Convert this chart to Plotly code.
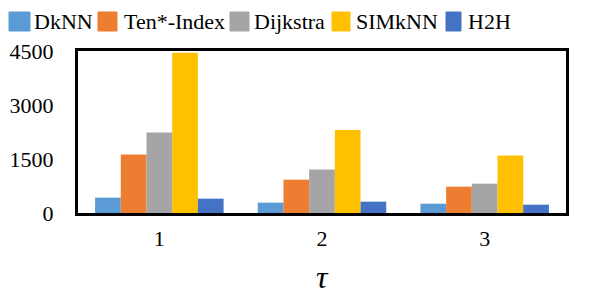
import plotly.graph_objects as go

categories = ["1", "2", "3"]
dknn = [426, 287, 259]
ten_index = [1622, 926, 732]
dijkstra = [2234, 1205, 815]
simknn = [4450, 2309, 1594]
h2h = [398, 315, 231]
y_ticks = [0, 1500, 3000, 4500]

series = [
    ("DkNN", dknn, "#5B9BD5"),
    ("Ten*-Index", ten_index, "#ED7D31"),
    ("Dijkstra", dijkstra, "#A5A5A5"),
    ("SIMkNN", simknn, "#FFC000"),
    ("H2H", h2h, "#4472C4"),
]

FONT = "Liberation Serif"
W, H = 592, 304
L, R, T, B = 78, 26, 51, 91
PW, PH = W - L - R, H - T - B

def px(x):
    return (x - L) / PW

def py(y):
    return (H - B - y) / PH

fig = go.Figure()
for name, vals, color in series:
    fig.add_trace(go.Bar(x=categories, y=vals, name=name,
                         marker=dict(color=color, line=dict(width=0)), showlegend=False))

legend_sq = [(9, 30), (98, 117), (230, 249), (332, 350), (446, 461)]
legend_tx = [32, 122, 252, 354, 466]
for (name, _, color), (x0, x1), tx in zip(series, legend_sq, legend_tx):
    fig.add_shape(type="rect", xref="paper", yref="paper",
                  x0=px(x0), x1=px(x1), y0=py(31), y1=py(12),
                  fillcolor=color, line=dict(width=1, color=color))
    fig.add_annotation(xref="paper", yref="paper", x=px(tx), y=py(21.5),
                       xanchor="left", yanchor="middle", text=name, showarrow=False,
                       font=dict(size=22, family=FONT, color="black"))

fig.add_annotation(xref="paper", yref="paper", x=0.5, y=py(277),
                   xanchor="center", yanchor="middle", text="<i>τ</i>", showarrow=False,
                   font=dict(size=32, family=FONT, color="black"))

fig.update_layout(
    width=W, height=H,
    margin=dict(l=L, r=R, t=T, b=B, autoexpand=False),
    paper_bgcolor="white", plot_bgcolor="white",
    barmode="group", bargap=0.21, bargroupgap=0,
    font=dict(family=FONT, size=22, color="black"),
    showlegend=False,
)
fig.update_xaxes(type="category", showline=True, linecolor="black", linewidth=3, mirror=True,
                 automargin=False,
                 ticks="", ticklabelstandoff=4, tickfont=dict(size=22, family=FONT))
fig.update_yaxes(range=[0, 4500], tickvals=y_ticks, showgrid=False, zeroline=False,
                 automargin=False,
                 showline=True, linecolor="black", linewidth=3, mirror=True,
                 ticks="", ticklabelstandoff=17, tickfont=dict(size=22, family=FONT))

fig.write_html("out.html", config={"displayModeBar": False, "staticPlot": True},
               post_script="document.body.style.margin='0';document.body.style.overflow='hidden';")
